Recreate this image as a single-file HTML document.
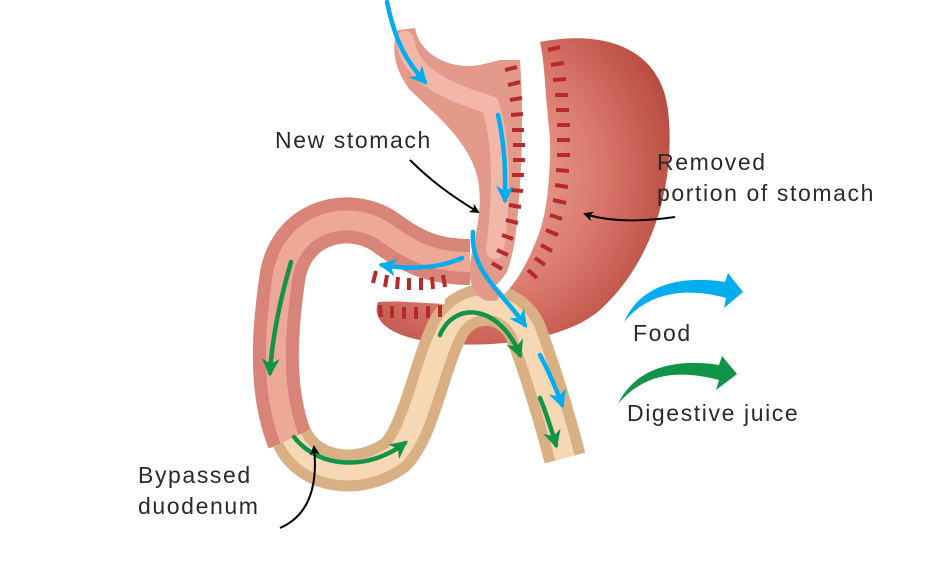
<!DOCTYPE html>
<html><head><meta charset="utf-8"><style>
html,body{margin:0;padding:0;background:#fff;}
svg{display:block;}
text{font-family:"Liberation Sans",sans-serif;font-weight:normal;fill:#2a2a2a;letter-spacing:1.6px;}
</style></head><body>
<svg width="939" height="579" viewBox="0 0 939 579" xmlns="http://www.w3.org/2000/svg">
<defs>
<radialGradient id="rs" cx="0.35" cy="0.45" r="0.7">
<stop offset="0" stop-color="#f0b3a4"/><stop offset="0.6" stop-color="#d9776a"/><stop offset="1" stop-color="#b84a40"/>
</radialGradient>
<marker id="ah" viewBox="0 0 10 10" refX="8" refY="5" markerWidth="5" markerHeight="5" orient="auto"><path d="M0,0 L10,5 L0,10 L3,5z" fill="#000"/></marker>
<marker id="bh" viewBox="0 0 10 10" refX="8" refY="5" markerWidth="4" markerHeight="4" orient="auto"><path d="M0,0 L10,5 L0,10 L3,5z" fill="#00aeef"/></marker>
<marker id="gh" viewBox="0 0 10 10" refX="8" refY="5" markerWidth="4" markerHeight="4" orient="auto"><path d="M0,0 L10,5 L0,10 L3,5z" fill="#119447"/></marker>
</defs>

<path d="M540,42 C600,30 660,45 668,110 C676,180 655,260 600,310 C560,345 470,350 420,340 C385,333 372,318 378,302 L440,300 C470,295 500,285 515,265 C545,230 555,170 548,120 C545,90 545,65 540,42 Z" fill="url(#rs)"/>
<path d="M470,262 C430,262 410,250 385,232 C350,208 290,220 282,280 C275,330 270,390 290,440" fill="none" stroke="#d88478" stroke-width="46" stroke-linecap="butt"/>
<path d="M470,262 C430,262 410,250 385,232 C350,208 290,220 282,280 C275,330 270,390 290,440" fill="none" stroke="#eea898" stroke-width="20"/>
<path d="M292,438 C310,475 360,480 395,455 C420,430 430,360 450,325 C470,295 510,300 525,330 C540,370 555,420 565,458" fill="none" stroke="#d9b083" stroke-width="42"/>
<path d="M292,438 C310,475 360,480 395,455 C420,430 430,360 450,325 C470,295 510,300 525,330 C540,370 555,420 565,458" fill="none" stroke="#f6d8b4" stroke-width="20"/>
<path d="M398,30 L415,28 C420,55 450,70 480,65 L500,60 L520,60 C525,130 520,200 515,240 C510,270 500,290 498,300 C480,305 470,290 470,275 C468,250 485,220 478,180 C470,140 430,110 410,90 C395,70 390,50 398,30 Z" fill="#e49a8b"/>
<path d="M405,40 C410,80 460,95 490,105 C505,150 500,210 495,250" fill="none" stroke="#f2b7a8" stroke-width="18" stroke-linecap="round"/>
<path d="M530,42 C548,120 548,200 530,240 C520,265 510,280 500,290" fill="none" stroke="#fff" stroke-width="12"/>
<path d="M372,296 L445,300" stroke="#fff" stroke-width="8"/>
<g stroke="#b52a2e" stroke-width="4">
<path d="M505,70 l12,-3 M508,85 l12,-3 M510,100 l12,-2 M511,115 l12,-1 M512,130 l12,0 M513,145 l12,0 M513,160 l12,0 M512,175 l12,0 M511,190 l12,1 M509,205 l12,2 M506,220 l12,3 M502,235 l11,4 M497,250 l11,5 M492,263 l10,6"/>
<path d="M548,50 l12,-3 M551,65 l13,-2 M553,80 l13,-1 M555,95 l13,0 M556,110 l13,0 M557,125 l13,0 M557,140 l13,0 M557,155 l13,0 M556,170 l13,1 M555,185 l13,2 M553,200 l13,3 M550,215 l12,4 M546,230 l12,5 M541,245 l11,6 M535,258 l10,7 M528,270 l9,8"/>
<path d="M373,283 l3,-12 M385,287 l2,-12 M397,289 l1,-12 M409,290 l0,-12 M421,290 l0,-12 M433,289 l-1,-12 M445,287 l-2,-12"/>
<path d="M380,305 l1,12 M392,306 l0,12 M404,307 l0,12 M416,307 l0,12 M428,306 l0,12 M440,305 l0,12"/>
</g>
<g fill="none" stroke="#00aeef" stroke-width="4.5" stroke-linecap="round">
<path d="M387,2 C395,40 405,60 425,82" marker-end="url(#bh)"/>
<path d="M498,115 C506,150 505,175 505,200" marker-end="url(#bh)"/>
<path d="M462,258 C440,268 410,270 382,265" marker-end="url(#bh)"/>
<path d="M473,232 C470,270 500,290 525,325" marker-end="url(#bh)"/>
<path d="M540,355 C548,370 555,385 562,405" marker-end="url(#bh)"/>
</g>
<g fill="none" stroke="#119447" stroke-width="4.5" stroke-linecap="round">
<path d="M291,262 C280,300 272,340 270,373" marker-end="url(#gh)"/>
<path d="M440,335 C455,300 500,305 520,355" marker-end="url(#gh)"/>
<path d="M540,398 C545,410 550,425 556,445" marker-end="url(#gh)"/>
<path d="M294,437 C320,470 370,470 405,443" marker-end="url(#gh)"/>
</g>
<g fill="none" stroke="#000" stroke-width="2">
<path d="M410,160 C430,180 450,195 478,212" marker-end="url(#ah)"/>
<path d="M675,217 C640,222 610,222 585,214" marker-end="url(#ah)"/>
<path d="M280,528 C310,515 318,485 314,447" marker-end="url(#ah)"/>
</g>
<path d="M624,322 C640,285 680,275 725,282 L728,273 L743,292 L724,308 L726,298 C690,288 650,290 624,322 Z" fill="#00aeef"/>
<path d="M618,404 C635,368 675,358 719,365 L722,356 L737,374 L716,390 L719,380 C680,370 645,372 618,404 Z" fill="#119447"/>
<text x="275" y="148" font-size="23">New stomach</text>
<text x="657" y="170" font-size="23">Removed</text>
<text x="657" y="201" font-size="23">portion of stomach</text>
<text x="633" y="341" font-size="23">Food</text>
<text x="627" y="421" font-size="23">Digestive juice</text>
<text x="138" y="483" font-size="23">Bypassed</text>
<text x="138" y="514" font-size="23">duodenum</text>
</svg>
</body></html>
